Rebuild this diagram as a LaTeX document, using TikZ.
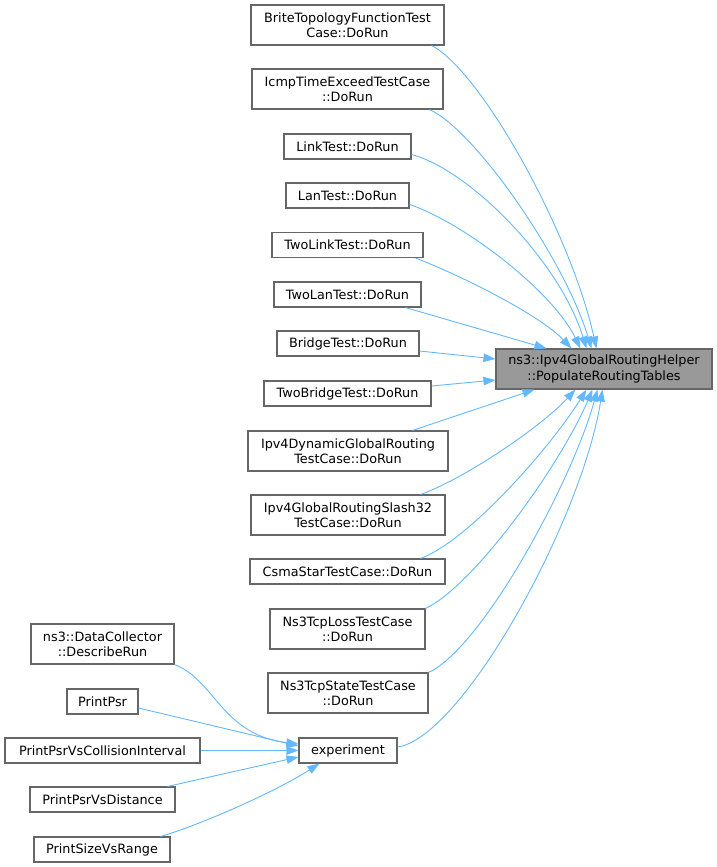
\documentclass[tikz,border=0pt]{standalone}
\usepackage{fontspec}
\setmainfont{DejaVu Sans}
\usetikzlibrary{arrows.meta}
\definecolor{edgeblue}{HTML}{63B8FF}
\definecolor{boxgray}{HTML}{666666}
\definecolor{targetgray}{HTML}{999999}

\begin{document}
\begin{tikzpicture}[x=1pt, y=-1pt,
  fn/.style={draw=boxgray, line width=1.1pt, fill=white, align=center, inner sep=1pt,
    minimum height=25, font=\fontsize{12.8}{15.3}\selectfont},
  fn2/.style={fn, minimum height=40},
  call/.style={draw=edgeblue, line width=0.9pt, -{Triangle[length=12pt,width=8.5pt]}}]
  \useasboundingbox (0,0) rectangle (717,867);

  % the function everything calls
  \node[fn2, fill=targetgray, minimum width=216] (populate) at (604,369)
    {ns3::Ipv4GlobalRoutingHelper\\::PopulateRoutingTables};

  % direct callers
  \node[fn2, minimum width=193] (brite) at (347.5,25) {BriteTopologyFunctionTest\\Case::DoRun};
  \node[fn2, minimum width=191] (icmp) at (347.5,89) {IcmpTimeExceedTestCase\\::DoRun};
  \node[fn, minimum width=127] (link) at (347.5,146.5) {LinkTest::DoRun};
  \node[fn, minimum width=123] (lan) at (347.5,195.5) {LanTest::DoRun};
  \node[fn, minimum width=151] (twolink) at (347.5,245) {TwoLinkTest::DoRun};
  \node[fn, minimum width=147] (twolan) at (347.5,294.5) {TwoLanTest::DoRun};
  \node[fn, minimum width=142] (bridge) at (348,343.5) {BridgeTest::DoRun};
  \node[fn, minimum width=167] (twobridge) at (347.5,393.5) {TwoBridgeTest::DoRun};
  \node[fn2, minimum width=200] (dynamic) at (348,451) {Ipv4DynamicGlobalRouting\\TestCase::DoRun};
  \node[fn2, minimum width=194] (slash) at (348,515) {Ipv4GlobalRoutingSlash32\\TestCase::DoRun};
  \node[fn, minimum width=195] (csma) at (347.5,571.5) {CsmaStarTestCase::DoRun};
  \node[fn2, minimum width=155] (tcploss) at (347.5,629) {Ns3TcpLossTestCase\\::DoRun};
  \node[fn2, minimum width=160] (tcpstate) at (348,693) {Ns3TcpStateTestCase\\::DoRun};
  \node[fn, minimum width=98] (experiment) at (348,750.5) {experiment};

  % callers of experiment
  \node[fn2, minimum width=143] (describe) at (102.5,644) {ns3::DataCollector\\::DescribeRun};
  \node[fn, minimum width=71] (psr) at (102.5,701.5) {PrintPsr};
  \node[fn, minimum width=195] (collision) at (102.5,750.5) {PrintPsrVsCollisionInterval};
  \node[fn, minimum width=145] (distance) at (102.5,799.5) {PrintPsrVsDistance};
  \node[fn, minimum width=136] (sizerange) at (102,849.5) {PrintSizeVsRange};

  % edges into PopulateRoutingTables
  \draw[call] ([xshift=-13pt]brite.south east) .. controls (480,70) and (570,230) .. ([xshift=101pt]populate.north west);
  \draw[call] ([xshift=-14pt]icmp.south east) .. controls (475,130) and (565,260) .. ([xshift=96pt]populate.north west);
  \draw[call] ([yshift=-8pt]link.east) .. controls (470,170) and (560,262) .. ([xshift=91pt]populate.north west);
  \draw[call] ([yshift=-9pt]lan.east) .. controls (462,222) and (552,290) .. ([xshift=85pt]populate.north west);
  \draw[call] ([xshift=-8pt]twolink.south east) .. controls (460,275) and (540,315) .. ([xshift=76pt]populate.north west);
  \draw[call] ([xshift=-16pt]twolan.south east) -- ([xshift=51pt]populate.north west);
  \draw[call] ([yshift=-7.5pt]bridge.east) -- ([yshift=10pt]populate.west);
  \draw[call] ([yshift=7.5pt]twobridge.east) -- ([yshift=-11pt]populate.west);
  \draw[call] ([xshift=-36pt]dynamic.north east) -- ([xshift=39pt]populate.south west);
  \draw[call] ([xshift=-25pt]slash.north east) .. controls (462,480) and (540,428) .. ([xshift=80pt]populate.south west);
  \draw[call] ([xshift=-25pt]csma.north east) .. controls (470,540) and (552,445) .. ([xshift=91pt]populate.south west);
  \draw[call] (tcploss.north east) .. controls (475,585) and (562,462) .. ([xshift=97pt]populate.south west);
  \draw[call] (tcpstate.north east) .. controls (482,648) and (572,482) .. ([xshift=102pt]populate.south west);
  \draw[call] ([yshift=3.5pt]experiment.east) .. controls (462,738) and (582,520) .. ([xshift=107pt]populate.south west);

  % edges into experiment
  \draw[call] (describe.south east) .. controls (215,680) and (222,735) .. ([yshift=6.5pt]experiment.west);
  \draw[call] ([yshift=-6.5pt]psr.east) -- ([yshift=4.5pt]experiment.west);
  \draw[call] (collision.east) -- (experiment.west);
  \draw[call] ([xshift=-8pt]distance.north east) -- ([yshift=-6.5pt]experiment.west);
  \draw[call] ([xshift=-10pt]sizerange.north east) .. controls (200,825) and (275,792) .. ([xshift=21pt]experiment.south west);
\end{tikzpicture}
\end{document}
